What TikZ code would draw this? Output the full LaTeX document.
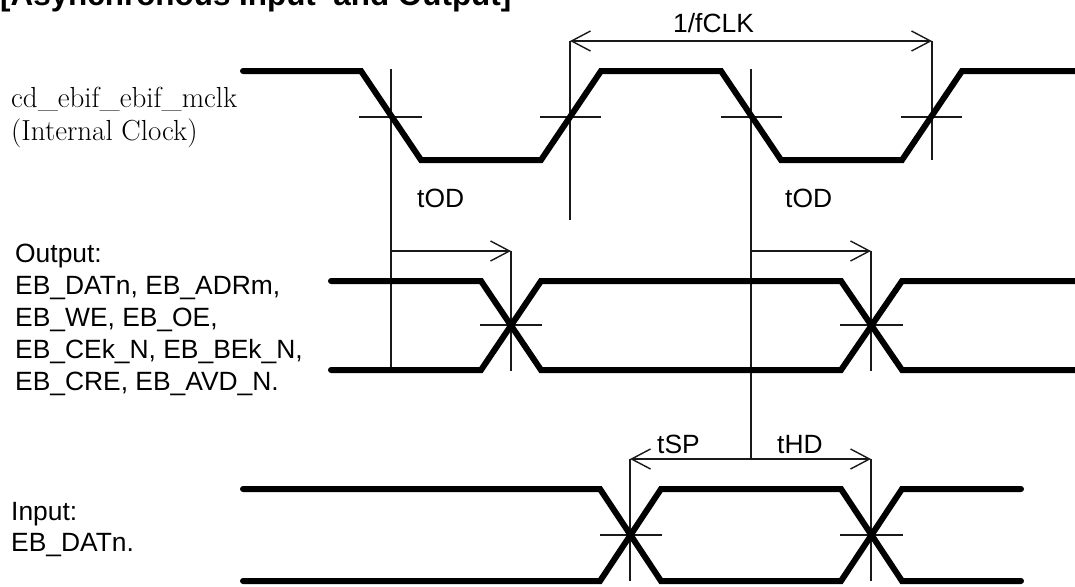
\documentclass[tikz,border=0pt]{standalone}
\usepackage{fontspec}
\setmainfont{Liberation Sans}
\newfontfamily\serifpart{Latin Modern Roman}
\usetikzlibrary{arrows.meta}
\tikzset{
  x=1pt,y=-1pt,
  sig/.style={line width=6pt,line join=miter,line cap=round},
  thin line/.style={line width=1.4pt,black!90},
  dim/.style={line width=1.4pt,black!90,{Straight Barb[length=19pt,width=20pt,line width=1.4pt]}-{Straight Barb[length=19pt,width=20pt,line width=1.4pt]}},
  dimr/.style={line width=1.4pt,black!90,-{Straight Barb[length=19pt,width=20pt,line width=1.4pt]}},
  lab/.style={inner sep=0pt,anchor=base west,font=\fontsize{26.4pt}{32pt}\selectfont},
}
\begin{document}
\begin{tikzpicture}
\useasboundingbox (0,0) rectangle (1075,586);
\clip (0,0) rectangle (1075,586);
% reference lines
\draw[thin line] (391,69) -- (391,369);
\draw[thin line] (570,41) -- (570,220);
\draw[thin line] (751,69) -- (751,459);
\draw[thin line] (932,41) -- (932,160);
\draw[thin line] (511,251) -- (511,371);
\draw[thin line] (871,251) -- (871,371);
\draw[thin line] (630,459) -- (630,581);
\draw[thin line] (871,459) -- (871,581);
% ticks
\foreach \a/\b/\y in {359/422/117,540/601/117,721/782/117,901/962/117,480/542/325,840/903/325,600/662/535,840/903/535}
  \draw[thin line] (\a,\y) -- (\b,\y);
% dimension arrows
\draw[dim] (570,41) -- (932,41);
\draw[dimr] (391,251) -- (511,251);
\draw[dimr] (751,251) -- (871,251);
\draw[dim] (630,459) -- (871,459);
% clock
\draw[sig] (243,71) -- (361,71) -- (421,160) -- (541,160) -- (601,71) -- (721,71) -- (781,160) -- (902,160) -- (962,71) -- (1080,71);
% output
\draw[sig] (331,281) -- (481,281) -- (541,370) -- (841,370) -- (902,281) -- (1080,281);
\draw[sig] (331,370) -- (481,370) -- (541,281) -- (841,281) -- (902,370) -- (1080,370);
% input
\draw[sig] (243,489) -- (600,489) -- (661,581) -- (841,581) -- (902,489) -- (1021,489);
\draw[sig] (243,581) -- (600,581) -- (661,489) -- (841,489) -- (902,581) -- (1021,581);
% text
\node[lab,font=\bfseries\fontsize{31.4pt}{36pt}\selectfont] (title) at (0,6) {[Asynchronous Input\ \ and Output]};
\node[lab,font=\serifpart\fontsize{29pt}{32pt}\selectfont] (clk1) at (11,107) {cd\_ebif\_ebif\_mclk};
\node[lab,font=\serifpart\fontsize{29pt}{32pt}\selectfont] (clk2) at (11,140) {(Internal Clock)};
\node[lab] (fclk) at (673,33) {1/fCLK};
\node[lab] (tod1) at (417,207) {tOD};
\node[lab] (tod2) at (785,207) {tOD};
\node[lab] (tsp) at (657,453) {tSP};
\node[lab] (thd) at (777,453) {tHD};
\node[lab] (o1) at (15,262) {Output:};
\node[lab] (o2) at (15,294) {EB\_DATn, EB\_ADRm,};
\node[lab] (o3) at (15,326) {EB\_WE, EB\_OE,};
\node[lab] (o4) at (15,358) {EB\_CEk\_N, EB\_BEk\_N,};
\node[lab] (o5) at (15,390) {EB\_CRE, EB\_AVD\_N.};
\node[lab] (i1) at (11,520) {Input:};
\node[lab] (i2) at (11,551) {EB\_DATn.};
\end{tikzpicture}
\end{document}
